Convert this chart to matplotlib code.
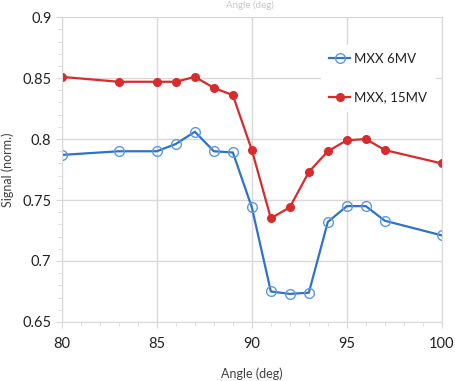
"""Signal vs angle for MXX chamber at 6MV and 15MV."""

import matplotlib

matplotlib.use("Agg")
import matplotlib.pyplot as plt
from matplotlib.ticker import MultipleLocator

angles = [80, 83, 85, 86, 87, 88, 89, 90, 91, 92, 93, 94, 95, 96, 97, 100]
signal_6mv = [0.787, 0.790, 0.790, 0.796, 0.806, 0.790, 0.789, 0.744,
              0.675, 0.673, 0.674, 0.732, 0.745, 0.745, 0.733, 0.721]
signal_15mv = [0.851, 0.847, 0.847, 0.847, 0.851, 0.842, 0.836, 0.791,
               0.735, 0.744, 0.773, 0.790, 0.799, 0.800, 0.791, 0.780]

BLUE = "#2f72c8"
RED = "#d92b2b"
GRID = "#d9d9d9"
TEXT = "#404040"

plt.rcParams["font.family"] = ["Lato", "DejaVu Sans"]

fig = plt.figure(figsize=(4.55, 3.81), dpi=100)
ax = fig.add_axes([0.136, 0.155, 0.835, 0.800])

ax.plot(angles, signal_6mv, color=BLUE, linewidth=1.6, marker="o",
        markersize=7, markerfacecolor="none", markeredgecolor="#5b9ae0",
        markeredgewidth=1.0, label="MXX 6MV")
ax.plot(angles, signal_15mv, color=RED, linewidth=1.6, marker="o",
        markersize=5.5, markerfacecolor=RED, markeredgecolor=RED,
        label="MXX, 15MV")

ax.set_xlim(80, 100)
ax.set_ylim(0.65, 0.9)
ax.xaxis.set_major_locator(MultipleLocator(5))
ax.xaxis.set_minor_locator(MultipleLocator(1))
ax.yaxis.set_minor_locator(MultipleLocator(0.01))
ax.set_yticks([0.65, 0.7, 0.75, 0.8, 0.85, 0.9])
ax.set_yticklabels(["0.65", "0.7", "0.75", "0.8", "0.85", "0.9"])

ax.grid(True, which="major", color=GRID, linewidth=1.0)
for spine in ax.spines.values():
    spine.set_color(GRID)
ax.tick_params(which="both", colors=GRID, labelcolor="#222222",
               labelsize=10.5)
ax.tick_params(which="major", length=4, direction="out")
ax.tick_params(which="minor", length=3, direction="out")
ax.tick_params(axis="x", pad=7)

ax.set_xlabel("Angle (deg)", fontsize=9, color=TEXT)
ax.set_ylabel("Signal (norm.)", fontsize=9, color=TEXT)
ax.xaxis.set_label_coords(0.5, -0.15)
ax.yaxis.set_label_coords(-0.125, 0.5)

fig.text(0.55, 1.0, "Angle (deg)", ha="center", va="top",
         fontsize=7, color="#c8c8c8")

legend = ax.legend(loc="upper right", bbox_to_anchor=(1.0, 0.93),
                   frameon=True, fontsize=9.5, labelspacing=2.0,
                   handlelength=1.6, handletextpad=0.3,
                   borderpad=0.6)
legend.get_frame().set_edgecolor("white")
legend.get_frame().set_facecolor("white")
legend.get_frame().set_alpha(1.0)
for text in legend.get_texts():
    text.set_color("#222222")

fig.savefig("out.png", dpi=100)
